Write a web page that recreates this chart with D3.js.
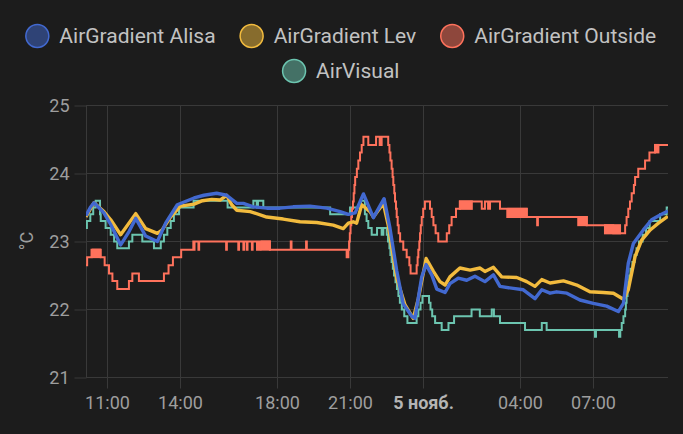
<!DOCTYPE html>
<html><head><meta charset="utf-8">
<script src="https://cdn.jsdelivr.net/npm/d3@7"></script>
<style>
html,body{margin:0;padding:0;background:#1c1c1c;}
svg{display:block;font-family:Roboto,"Noto Sans",sans-serif;}
</style></head><body>
<svg id="chart" width="683" height="434"></svg>
<script>
// ---------- DATA (time = hours since 4 Nov 00:00, value = °C) ----------
const seriesNames  = ["AirGradient Alisa", "AirGradient Lev", "AirGradient Outside", "AirVisual"];
const seriesColors = ["#4269d0", "#f2bb3e", "#ff725c", "#6cc5b0"];
const yTicks = [21, 22, 23, 24, 25];
const xTickHours = [11, 14, 18, 21, 24, 28, 31];
const dayLabel = "5 нояб.";
const timeDomain = [10.123, 34.074];

const alisa = [[10.12,23.38],[10.30,23.50],[10.45,23.57],[10.65,23.50],[10.86,23.42],[11.14,23.25],[11.55,22.95],[11.90,23.15],[12.17,23.34],[12.58,23.08],[13.06,23.00],[13.40,23.27],[13.88,23.54],[14.57,23.64],[14.98,23.68],[15.50,23.71],[15.91,23.68],[16.33,23.56],[16.60,23.56],[17.01,23.51],[17.56,23.49],[18.11,23.49],[18.65,23.51],[19.34,23.52],[20.03,23.49],[20.58,23.44],[20.92,23.40],[21.20,23.42],[21.54,23.70],[21.95,23.35],[22.39,23.63],[22.63,23.20],[22.91,22.57],[23.18,22.08],[23.53,21.90],[23.66,21.87],[23.94,22.48],[24.12,22.66],[24.35,22.51],[24.56,22.30],[24.90,22.25],[25.10,22.38],[25.44,22.46],[25.79,22.43],[26.13,22.49],[26.54,22.41],[26.89,22.51],[27.16,22.34],[27.71,22.31],[28.12,22.29],[28.60,22.16],[28.88,22.29],[29.22,22.24],[29.49,22.26],[29.91,22.24],[30.45,22.14],[31.00,22.09],[31.55,22.05],[32.03,21.97],[32.24,22.09],[32.44,22.68],[32.65,22.97],[33.06,23.17],[33.40,23.32],[33.75,23.39],[34.07,23.45]];

const lev = [[10.12,23.36],[10.45,23.57],[10.86,23.44],[11.14,23.32],[11.55,23.10],[12.17,23.41],[12.58,23.19],[13.06,23.12],[13.26,23.17],[13.60,23.36],[14.01,23.52],[14.57,23.55],[14.92,23.60],[15.30,23.62],[15.64,23.61],[15.91,23.68],[16.12,23.54],[16.33,23.46],[16.88,23.44],[17.56,23.36],[18.24,23.33],[18.93,23.29],[19.62,23.28],[20.30,23.24],[20.71,23.19],[20.92,23.27],[21.12,23.29],[21.26,23.27],[21.47,23.54],[21.81,23.44],[21.95,23.36],[22.36,23.56],[22.56,23.24],[22.91,22.46],[23.25,22.07],[23.59,21.87],[23.80,22.16],[24.12,22.75],[24.42,22.56],[24.69,22.41],[24.90,22.36],[25.10,22.48],[25.51,22.61],[25.93,22.58],[26.34,22.61],[26.54,22.56],[26.89,22.62],[27.23,22.48],[27.85,22.47],[28.26,22.41],[28.60,22.34],[28.88,22.44],[29.22,22.39],[29.77,22.42],[30.04,22.39],[30.32,22.36],[30.86,22.26],[31.41,22.25],[31.83,22.24],[32.24,22.15],[32.44,22.29],[32.72,22.78],[32.99,23.02],[33.34,23.17],[33.68,23.27],[34.07,23.37]];

const outside = [[10.12,22.65],[10.17,22.77],[10.35,22.88],[10.73,22.77],[10.89,22.65],[11.07,22.53],[11.21,22.42],[11.41,22.30],[11.89,22.42],[12.03,22.53],[12.30,22.42],[13.33,22.53],[13.52,22.65],[13.70,22.77],[14.04,22.88],[14.54,23.00],[14.56,22.88],[14.59,23.00],[14.75,22.88],[14.78,23.00],[15.89,22.88],[15.92,23.00],[16.39,22.88],[16.42,23.00],[16.60,22.88],[16.63,23.00],[16.74,22.88],[16.77,23.00],[16.95,22.88],[16.98,23.00],[17.16,22.88],[17.19,23.00],[17.27,22.88],[17.30,23.00],[17.69,22.88],[18.55,23.00],[18.58,22.88],[19.18,23.00],[19.21,22.88],[20.85,22.77],[20.92,22.88],[20.95,23.00],[20.98,23.12],[21.01,23.24],[21.04,23.36],[21.07,23.48],[21.11,23.59],[21.14,23.71],[21.17,23.83],[21.20,23.95],[21.27,24.07],[21.33,24.19],[21.40,24.31],[21.47,24.42],[21.54,24.54],[21.74,24.42],[22.06,24.54],[22.21,24.42],[22.29,24.54],[22.56,24.42],[22.61,24.31],[22.65,24.19],[22.70,24.07],[22.74,23.95],[22.77,23.83],[22.81,23.71],[22.84,23.59],[22.88,23.48],[22.91,23.36],[22.95,23.24],[22.99,23.12],[23.05,23.00],[23.18,22.88],[23.32,22.77],[23.43,22.65],[23.48,22.53],[23.73,22.65],[23.77,22.77],[23.80,22.88],[23.84,23.00],[23.87,23.12],[23.90,23.24],[23.94,23.36],[24.00,23.48],[24.07,23.59],[24.28,23.48],[24.35,23.36],[24.42,23.24],[24.51,23.12],[24.62,23.00],[24.97,23.12],[25.07,23.24],[25.17,23.36],[25.35,23.48],[25.51,23.59],[26.41,23.48],[26.54,23.59],[26.67,23.48],[26.75,23.59],[27.16,23.48],[27.46,23.36],[27.49,23.48],[28.26,23.36],[28.69,23.24],[28.72,23.36],[30.73,23.24],[31.82,23.12],[32.31,23.24],[32.37,23.36],[32.44,23.48],[32.51,23.59],[32.58,23.71],[32.67,23.83],[32.72,23.95],[32.85,24.07],[33.13,24.19],[33.31,24.31],[33.54,24.42],[34.08,24.42]];

// stretches where the outside sensor flickers between two levels: [start, end, low, high]
const outsideFlicker = [[10.40,10.70,22.77,22.88],[17.35,17.69,22.88,23.00],[25.51,26.00,23.48,23.59],[27.50,28.26,23.36,23.48],[30.38,30.73,23.24,23.36],[31.48,32.10,23.12,23.24],[33.54,33.68,24.31,24.42]];

const airVisual = [[10.12,23.2],[10.16,23.3],[10.30,23.4],[10.42,23.5],[10.52,23.6],[10.70,23.4],[10.73,23.3],[10.93,23.2],[11.14,23.1],[11.28,23.0],[11.41,22.9],[11.89,23.0],[12.03,23.1],[12.44,23.0],[12.92,22.9],[13.20,23.0],[13.33,23.1],[13.47,23.2],[13.61,23.3],[13.74,23.4],[13.95,23.5],[14.55,23.6],[15.95,23.5],[17.01,23.6],[17.15,23.5],[17.20,23.6],[17.42,23.5],[20.17,23.4],[20.99,23.5],[21.44,23.6],[21.60,23.4],[21.67,23.3],[21.74,23.2],[21.88,23.1],[22.10,23.2],[22.29,23.1],[22.36,23.2],[22.50,23.1],[22.55,23.0],[22.61,22.9],[22.65,22.8],[22.70,22.7],[22.75,22.6],[22.80,22.5],[22.86,22.4],[22.92,22.3],[22.98,22.2],[23.04,22.1],[23.12,22.0],[23.22,21.9],[23.35,21.8],[23.73,21.9],[23.80,22.0],[23.89,22.1],[23.97,22.2],[24.24,22.1],[24.30,22.0],[24.37,21.9],[24.49,21.8],[24.76,21.7],[25.04,21.8],[25.27,21.9],[25.99,22.0],[26.33,21.9],[26.82,22.0],[26.91,21.9],[27.16,21.8],[28.19,21.7],[28.88,21.8],[29.08,21.7],[31.07,21.6],[31.11,21.7],[32.06,21.6],[32.11,21.7],[32.17,21.8],[32.24,21.9],[32.31,22.0],[32.34,22.1],[32.37,22.2],[32.41,22.3],[32.44,22.4],[32.48,22.5],[32.53,22.6],[32.61,22.7],[32.70,22.8],[32.78,22.9],[32.88,23.0],[33.03,23.1],[33.17,23.2],[33.32,23.3],[33.75,23.4],[34.02,23.5],[34.08,23.5]];

// ---------- CHART ----------
const W = 683, H = 434;
const plot = {left: 86, right: 668, top: 105.5, bottom: 377.5};
const gridColor = "#393939";
const tickText = "#9e9e9e";
const base = Date.UTC(2024, 10, 4);
const toDate = h => new Date(base + h * 3600e3);

const svg = d3.select("#chart");
svg.append("rect").attr("width", W).attr("height", H).attr("fill", "#1c1c1c");

const x = d3.scaleUtc().domain(timeDomain.map(toDate)).range([plot.left, plot.right]);
const y = d3.scaleLinear().domain([21, 25]).range([plot.bottom, plot.top]);
const crisp = v => Math.round(v - 0.5) + 0.5;

// grid
const grid = svg.append("g");
grid.selectAll("line.h").data(yTicks).join("line")
  .attr("x1", plot.left).attr("x2", plot.right)
  .attr("y1", d => crisp(y(d))).attr("y2", d => crisp(y(d)))
  .attr("stroke", gridColor);
grid.selectAll("line.v").data(xTickHours).join("line")
  .attr("x1", d => crisp(x(toDate(d)))).attr("x2", d => crisp(x(toDate(d))))
  .attr("y1", plot.top).attr("y2", plot.bottom)
  .attr("stroke", gridColor);
grid.append("line").attr("x1", crisp(plot.left)).attr("x2", crisp(plot.left))
  .attr("y1", plot.top).attr("y2", plot.bottom).attr("stroke", gridColor);

// axes
const yAxis = svg.append("g").attr("transform", `translate(${crisp(plot.left)},0)`)
  .call(d3.axisLeft(y).tickValues(yTicks).tickSize(12).tickPadding(5).tickFormat(d3.format("d")));
yAxis.select(".domain").remove();
yAxis.selectAll(".tick line").attr("stroke", gridColor);
yAxis.selectAll(".tick text").attr("fill", tickText).attr("font-size", 18).attr("font-family", "Roboto");

const fmt = d3.utcFormat("%H:%M");
const xAxis = svg.append("g").attr("transform", `translate(0,${plot.bottom})`)
  .call(d3.axisBottom(x).tickValues(xTickHours.map(toDate)).tickSize(11).tickPadding(8)
    .tickFormat(d => d.getUTCHours() === 0 ? dayLabel : fmt(d)));
xAxis.select(".domain").remove();
xAxis.selectAll(".tick line").attr("stroke", gridColor);
xAxis.selectAll(".tick").attr("transform", d => `translate(${crisp(x(d))},0)`);
xAxis.selectAll(".tick text").attr("font-size", 18).attr("font-family", "Roboto")
  .attr("font-weight", d => d.getUTCHours() === 0 ? "bold" : null)
  .attr("fill", d => d.getUTCHours() === 0 ? "#b4b4b4" : tickText);

// y label
svg.append("text").attr("transform", "translate(26,241) rotate(-90)")
  .attr("text-anchor", "middle").attr("dominant-baseline", "central")
  .attr("fill", tickText).attr("font-size", 18).text("°C");

// clip
svg.append("clipPath").attr("id", "clip").append("rect")
  .attr("x", plot.left).attr("y", 90).attr("width", plot.right - plot.left).attr("height", 300);
const lines = svg.append("g").attr("clip-path", "url(#clip)");

const lineLinear = d3.line().x(d => x(toDate(d[0]))).y(d => y(d[1]));
const lineStep = d3.line().x(d => x(toDate(d[0]))).y(d => y(d[1])).curve(d3.curveStepAfter);

// draw order: AirVisual, Outside, Lev, Alisa (first dataset on top)
lines.append("path").datum(airVisual).attr("d", lineStep)
  .attr("fill", "none").attr("stroke", seriesColors[3]).attr("stroke-width", 2);
lines.append("path").datum(outside).attr("d", lineStep)
  .attr("fill", "none").attr("stroke", seriesColors[2]).attr("stroke-width", 2);
lines.selectAll("rect.flicker").data(outsideFlicker).join("rect")
  .attr("x", d => x(toDate(d[0]))).attr("width", d => x(toDate(d[1])) - x(toDate(d[0])))
  .attr("y", d => y(d[3])).attr("height", d => y(d[2]) - y(d[3]))
  .attr("fill", seriesColors[2]).attr("stroke", seriesColors[2]).attr("stroke-width", 2);
lines.append("path").datum(lev).attr("d", lineLinear)
  .attr("fill", "none").attr("stroke", seriesColors[1]).attr("stroke-width", 3.4)
  .attr("stroke-linejoin", "round");
lines.append("path").datum(alisa).attr("d", lineLinear)
  .attr("fill", "none").attr("stroke", seriesColors[0]).attr("stroke-width", 3.4)
  .attr("stroke-linejoin", "round");

// legend
const legendRows = [[0, 1, 2], [3]];
const legendY = [36, 71];
const r = 11.5, textGap = 22, itemGap = 24.5, centerX = 341;
const legend = svg.append("g");
legendRows.forEach((row, ri) => {
  const items = row.map(i => {
    const g = legend.append("g");
    g.append("circle").attr("r", r).attr("cx", 0).attr("cy", 0)
      .attr("fill", seriesColors[i]).attr("fill-opacity", 0.5)
      .attr("stroke", seriesColors[i]).attr("stroke-width", 1.5);
    const t = g.append("text").attr("x", textGap).attr("y", 0)
      .attr("dominant-baseline", "central").attr("fill", "#c2c2c2")
      .attr("font-size", 21).text(seriesNames[i]);
    const w = r + textGap + t.node().getComputedTextLength();
    return {g, w};
  });
  const total = d3.sum(items, d => d.w) + itemGap * (items.length - 1);
  let cx = centerX - total / 2 + r;
  items.forEach(it => {
    it.g.attr("transform", `translate(${cx},${legendY[ri]})`);
    cx += it.w + itemGap;
  });
});
</script></body></html>
